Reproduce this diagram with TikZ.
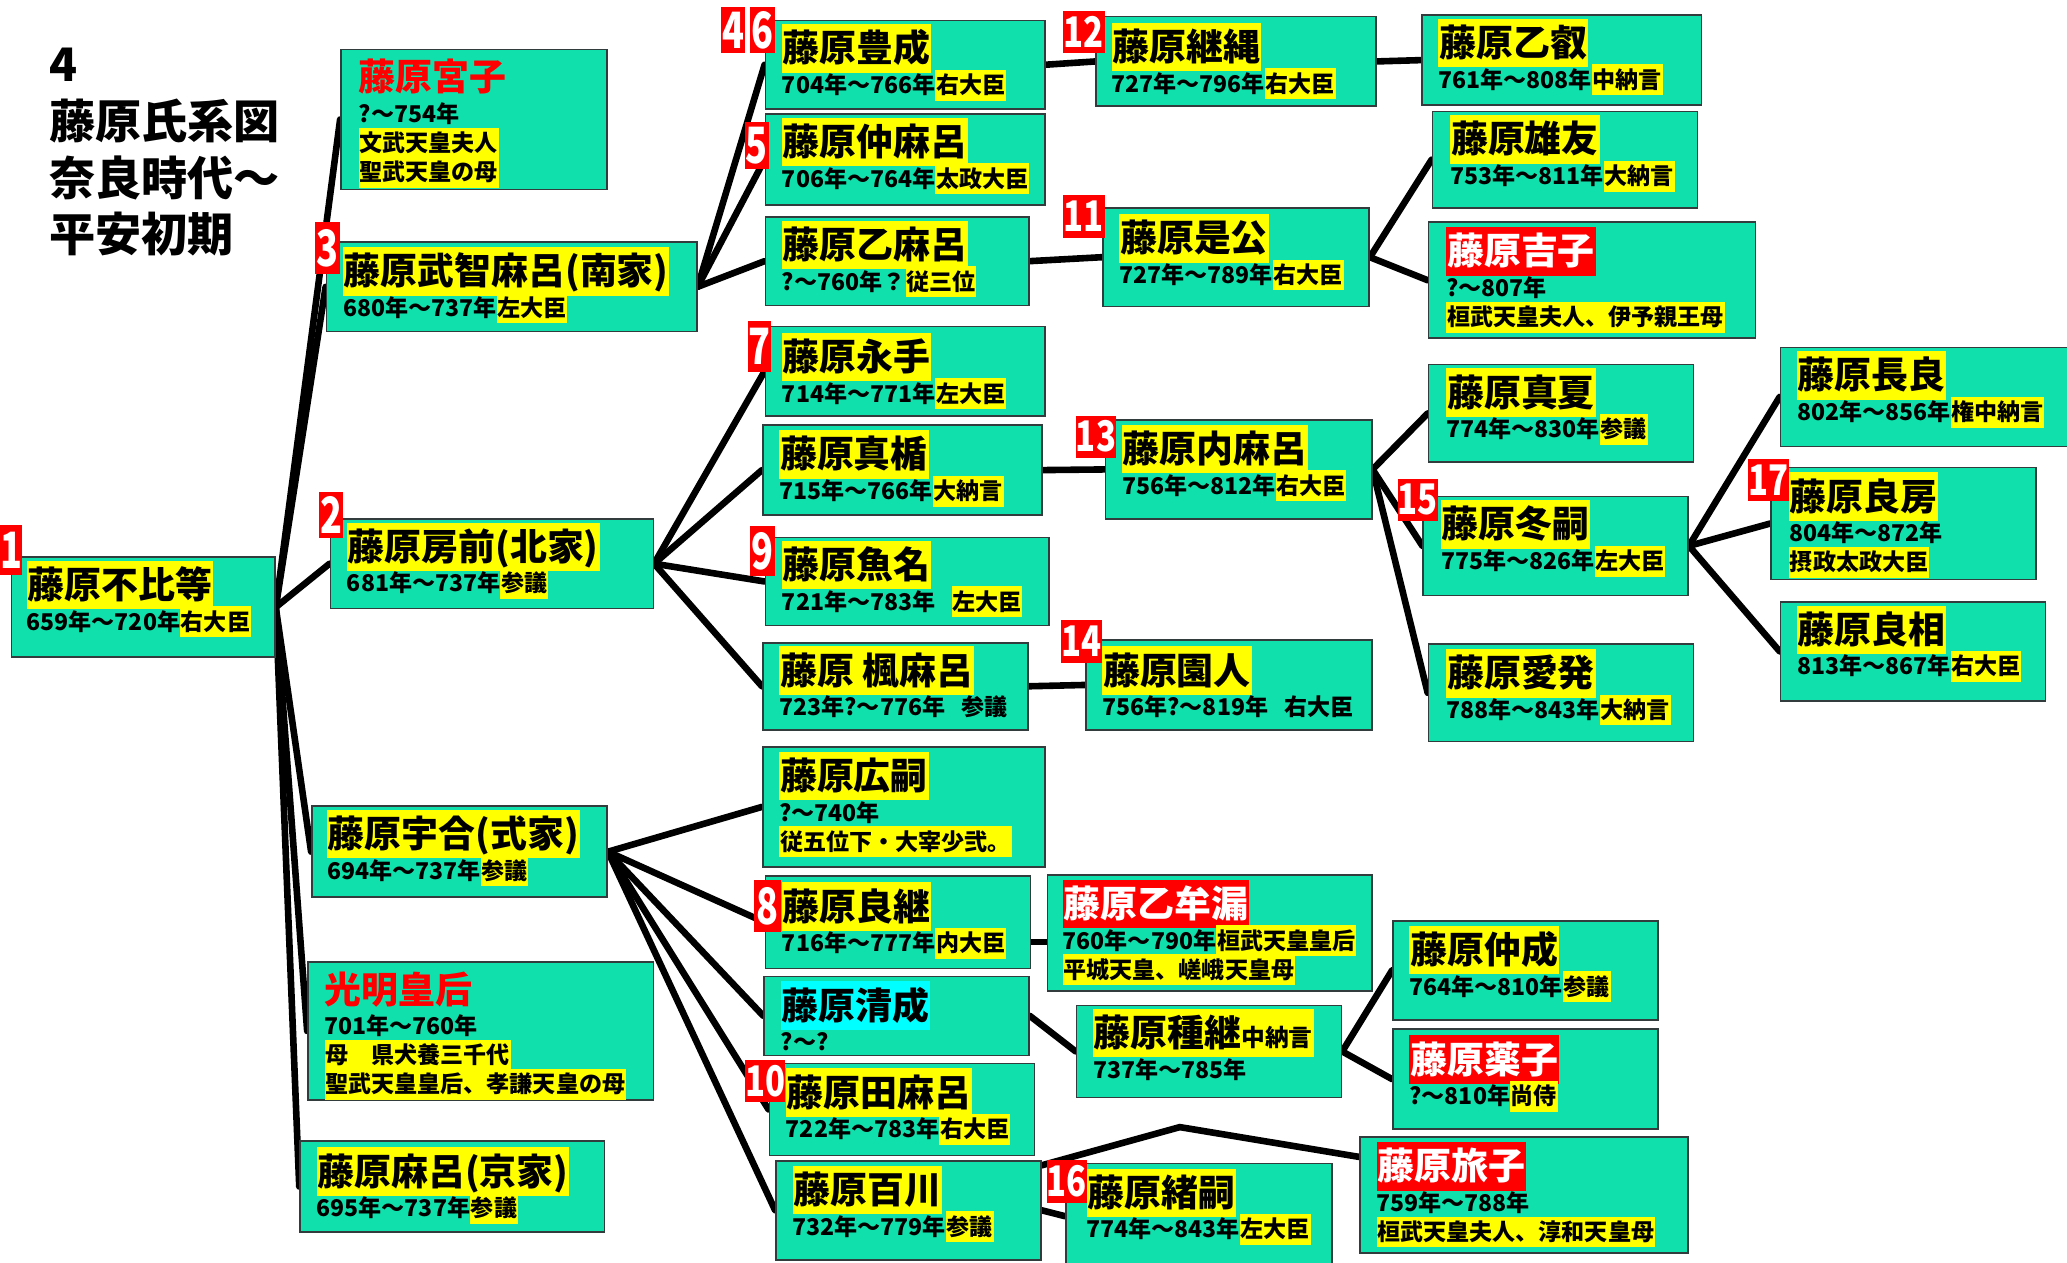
\documentclass[tikz,border=0pt]{standalone}
\usepackage{fontspec}
\setmainfont{Noto Sans CJK JP}
\usepackage{graphicx}
\usetikzlibrary{backgrounds}
\definecolor{boxg}{RGB}{16,225,172}
\definecolor{boxb}{RGB}{50,60,60}
\definecolor{hlyel}{RGB}{255,255,0}
\definecolor{hlcyan}{RGB}{0,255,255}
\definecolor{hlred}{RGB}{255,0,0}
\tikzset{
 pbox/.style={draw=boxb, line width=1.2pt, fill=boxg, anchor=north west, inner sep=0pt},
 ptxt/.style={anchor=base west, inner sep=0pt, font=\bfseries},
 badge/.style={fill=hlred, text=white, anchor=north west, inner sep=0pt, font=\bfseries},
 link/.style={line width=5pt, line cap=round},
 titletxt/.style={anchor=base west, inner sep=0pt, font=\bfseries\fontsize{35}{43}\selectfont}
}
\newcommand\hlc[2]{{\fboxsep=0.6pt\colorbox{#1}{\rule[-0.27em]{0pt}{1.27em}#2}}}
\newcommand\hl[1]{\hlc{hlyel}{#1}}
\newcommand\nm[1]{\fontsize{28}{28}\selectfont\hl{#1}}
\newcommand\rn[1]{\fontsize{28}{28}\selectfont\hlc{hlred}{\color{white}#1}}
\newcommand\cn[1]{\fontsize{28}{28}\selectfont\hlc{hlcyan}{#1}}
\newcommand\rt[1]{\fontsize{28}{28}\selectfont\color{hlred}#1}
\newcommand\sm{\fontsize{17.5}{22}\selectfont}
\newcommand\ptwo[2]{\vtop{\lineskiplimit=-\maxdimen\lineskip=0pt\baselineskip=24pt\hbox{#1}\hbox{\sm #2}}}
\newcommand\pthree[3]{\vtop{\lineskiplimit=-\maxdimen\lineskip=0pt\baselineskip=24pt\hbox{#1}\hbox{\sm #2}\baselineskip=22pt\hbox{\sm #3}}}
\newcommand\pfour[4]{\vtop{\lineskiplimit=-\maxdimen\lineskip=0pt\baselineskip=24pt\hbox{#1}\hbox{\sm #2}\baselineskip=22pt\hbox{\sm #3}\hbox{\sm #4}}}
\newcommand\person[8]{%
  \node[pbox,minimum width=#4pt,minimum height=#5pt] (#1) at (#2,#3) {};
  \node[ptxt] (#1t) at (#6,#7) {#8};}
\newcommand\badge[6]{\node[badge,minimum width=#4pt,minimum height=#5pt] (#1) at (#2,#3) {#6};}
\newcommand\dg[1]{\scalebox{0.72}[1]{\fontsize{38}{38}\selectfont #1}}
\newcommand\dd[1]{\scalebox{0.78}[1]{\fontsize{32}{32}\selectfont #1}}
\begin{document}
\begin{tikzpicture}[x=1pt,y=-1pt]
\path[use as bounding box] (0,0) rectangle (1568,958);
\clip (0,0) rectangle (1568,958);
% title
\node[titletxt] (title) at (37,62) {\vtop{\lineskiplimit=-\maxdimen\lineskip=0pt\baselineskip=43pt\hbox{4}\hbox{藤原氏系図}\hbox{奈良時代～}\hbox{平安初期}}};
% persons
\person{b1}{8}{422}{200}{76}{20}{454}{\ptwo{\nm{藤原不比等}}{659年～720年\hl{右大臣}}}
\person{b2}{258}{37}{202}{106}{272}{69}{\pfour{\rt{藤原宮子}}{?～754年}{\hl{文武天皇夫人}}{\hl{聖武天皇の母}}}
\person{b3}{247}{183}{281}{68}{260}{216}{\ptwo{\nm{藤原武智麻呂(南家)}}{680年～737年\hl{左大臣}}}
\person{b4}{250}{393}{245}{68}{263}{425}{\ptwo{\nm{藤原房前(北家)}}{681年～737年\hl{参議}}}
\person{b5}{236}{611}{224}{69}{248}{643}{\ptwo{\nm{藤原宇合(式家)}}{694年～737年\hl{参議}}}
\person{b6}{233}{729}{262}{105}{246}{761}{\pfour{\rt{光明皇后}}{701年～760年}{\hl{母　県犬養三千代}}{\hl{聖武天皇皇后、孝謙天皇の母}}}
\person{b7}{227}{865}{231}{69}{240}{899}{\ptwo{\nm{藤原麻呂(京家)}}{695年～737年\hl{参議}}}
\person{c1}{580}{15}{212}{67}{593}{47}{\ptwo{\nm{藤原豊成}}{704年～766年\hl{右大臣}}}
\person{c2}{580}{86}{212}{69}{593}{118}{\ptwo{\nm{藤原仲麻呂}}{706年～764年\hl{太政大臣}}}
\person{c3}{580}{164}{200}{67}{593}{196}{\ptwo{\nm{藤原乙麻呂}}{?～760年？\hl{従三位}}}
\person{c4}{580}{247}{212}{68}{593}{281}{\ptwo{\nm{藤原永手}}{714年～771年\hl{左大臣}}}
\person{c5}{578}{322}{212}{68}{591}{355}{\ptwo{\nm{藤原真楯}}{715年～766年\hl{大納言}}}
\person{c6}{580}{407}{215}{67}{593}{439}{\ptwo{\nm{藤原魚名}}{721年～783年\hspace{0.7em}\hl{左大臣}}}
\person{c7}{578}{487}{201}{66}{591}{519}{\ptwo{\nm{藤原\ 楓麻呂}}{723年?～776年\hspace{0.7em}参議}}
\person{c8}{578}{566}{214}{91}{591}{599}{\pthree{\nm{藤原広嗣}}{?～740年}{\hl{従五位下・大宰少弐。}}}
\person{c9}{580}{664}{201}{70}{593}{698}{\ptwo{\nm{藤原良継}}{716年～777年\hl{内大臣}}}
\person{c10}{579}{740}{201}{60}{592}{773}{\ptwo{\cn{藤原清成}}{?～?}}
\person{c11}{583}{806}{201}{70}{596}{839}{\ptwo{\nm{藤原田麻呂}}{722年～783年\hl{右大臣}}}
\person{c12}{588}{880}{201}{75}{601}{913}{\ptwo{\nm{藤原百川}}{732年～779年\hl{参議}}}
\person{d1}{831}{12}{212}{68}{843}{46}{\ptwo{\nm{藤原継縄}}{727年～796年\hl{右大臣}}}
\person{d2}{836}{157}{202}{75}{849}{191}{\ptwo{\nm{藤原是公}}{727年～789年\hl{右大臣}}}
\person{d3}{838}{318}{202}{75}{851}{351}{\ptwo{\nm{藤原内麻呂}}{756年～812年\hl{右大臣}}}
\person{d4}{823}{485}{217}{68}{836}{519}{\ptwo{\nm{藤原園人}}{756年?～819年\hspace{0.7em}右大臣}}
\person{d5}{794}{663}{246}{88}{806}{696}{\pthree{\rn{藤原乙牟漏}}{760年～790年\hl{桓武天皇皇后}}{\hl{平城天皇、嵯峨天皇母}}}
\person{d6}{816}{762}{201}{70}{829}{794}{\ptwo{\nm{藤原種継{\fontsize{18}{18}\selectfont 中納言}}}{737年～785年}}
\person{d7}{808}{882}{202}{80}{824}{915}{\ptwo{\nm{藤原緒嗣}}{774年～843年\hl{左大臣}}}
\person{e1}{1078}{11}{212}{68}{1091}{43}{\ptwo{\nm{藤原乙叡}}{761年～808年\hl{中納言}}}
\person{e2}{1086}{84}{201}{73}{1100}{116}{\ptwo{\nm{藤原雄友}}{753年～811年\hl{大納言}}}
\person{e3}{1083}{168}{248}{88}{1097}{201}{\pthree{\rn{藤原吉子}}{?～807年}{\hl{桓武天皇夫人、伊予親王母}}}
\person{e4}{1083}{276}{201}{74}{1097}{308}{\ptwo{\nm{藤原真夏}}{774年～830年\hl{参議}}}
\person{e5}{1079}{376}{201}{75}{1093}{408}{\ptwo{\nm{藤原冬嗣}}{775年～826年\hl{左大臣}}}
\person{e6}{1083}{488}{201}{74}{1097}{521}{\ptwo{\nm{藤原愛発}}{788年～843年\hl{大納言}}}
\person{e7}{1056}{698}{201}{75}{1069}{731}{\ptwo{\nm{藤原仲成}}{764年～810年\hl{参議}}}
\person{e8}{1056}{780}{201}{76}{1069}{814}{\ptwo{\rn{藤原薬子}}{?～810年\hl{尚侍}}}
\person{e9}{1031}{862}{249}{88}{1044}{895}{\pthree{\rn{藤原旅子}}{759年～788年}{\hl{桓武天皇夫人、淳和天皇母}}}
\person{f1}{1350}{263}{230}{75}{1363}{295}{\ptwo{\nm{藤原長良}}{802年～856年\hl{権中納言}}}
\person{f2}{1343}{354}{201}{85}{1357}{387}{\pthree{\nm{藤原良房}}{804年～872年}{\hl{摂政太政大臣}}}
\person{f3}{1350}{456}{201}{75}{1363}{488}{\ptwo{\nm{藤原良相}}{813年～867年\hl{右大臣}}}
% connectors behind boxes
\coordinate (pk) at (895,855);
\begin{scope}[on background layer]
\fill[white] (0,0) rectangle (1568,958);
\draw[link] (b1.east) -- (b2.west);
\draw[link] (b1.east) -- (b3.west);
\draw[link] (b1.east) -- (b4.west);
\draw[link] (b1.east) -- (b5.west);
\draw[link] (b1.east) -- (b6.west);
\draw[link] (b1.east) -- (b7.west);
\draw[link] (b3.east) -- (c1.west);
\draw[link] (b3.east) -- (c2.west);
\draw[link] (b3.east) -- (c3.west);
\draw[link] (b4.east) -- (c4.west);
\draw[link] (b4.east) -- (c5.west);
\draw[link] (b4.east) -- (c6.west);
\draw[link] (b4.east) -- (c7.west);
\draw[link] (b5.east) -- (c8.west);
\draw[link] (b5.east) -- (c9.west);
\draw[link] (b5.east) -- (c10.west);
\draw[link] (b5.east) -- (c11.west);
\draw[link] (b5.east) -- (c12.west);
\draw[link] (c1.east) -- (d1.west);
\draw[link] (d1.east) -- (e1.west);
\draw[link] (c3.east) -- (d2.west);
\draw[link] (d2.east) -- (e2.west);
\draw[link] (d2.east) -- (e3.west);
\draw[link] (c5.east) -- (d3.west);
\draw[link] (d3.east) -- (e4.west);
\draw[link] (d3.east) -- (e5.west);
\draw[link] (d3.east) -- (e6.west);
\draw[link] (e5.east) -- (f1.west);
\draw[link] (e5.east) -- (f2.west);
\draw[link] (e5.east) -- (f3.west);
\draw[link] (c7.east) -- (d4.west);
\draw[link] ([yshift=-15pt]c9.east) -- ([yshift=-7pt]d5.west);
\draw[link] (c10.east) -- (d6.west);
\draw[link] (d6.east) -- (e7.west);
\draw[link] (d6.east) -- (e8.west);
\draw[link] (c12.east) -- (d7.west);
\draw[link] ([yshift=-4pt]c12.north east) -- (pk) -- ([yshift=29pt]e9.west);
\end{scope}
% badges
\badge{n1}{0}{398}{16}{38}{\dg{1}}
\badge{n3}{239}{168}{19}{40}{\dg{3}}
\badge{n2}{242}{373}{18}{35}{\dg{2}}
\badge{n4}{547}{5}{18}{35}{\dg{4}}
\badge{n6}{569}{5}{19}{35}{\dg{6}}
\badge{n5}{565}{92}{18}{36}{\dg{5}}
\badge{n7}{567}{243}{18}{39}{\dg{7}}
\badge{n9}{569}{399}{19}{38}{\dg{9}}
\badge{n8}{572}{667}{20}{40}{\dg{8}}
\badge{n10}{565}{804}{30}{32}{\dd{10}}
\badge{n12}{806}{8}{32}{32}{\dd{12}}
\badge{n11}{806}{148}{32}{32}{\dd{11}}
\badge{n13}{816}{315}{30}{32}{\dd{13}}
\badge{n14}{805}{470}{31}{33}{\dd{14}}
\badge{n16}{794}{880}{30}{32}{\dd{16}}
\badge{n15}{1060}{363}{30}{32}{\dd{15}}
\badge{n17}{1326}{348}{31}{32}{\dd{17}}
\end{tikzpicture}
\end{document}
